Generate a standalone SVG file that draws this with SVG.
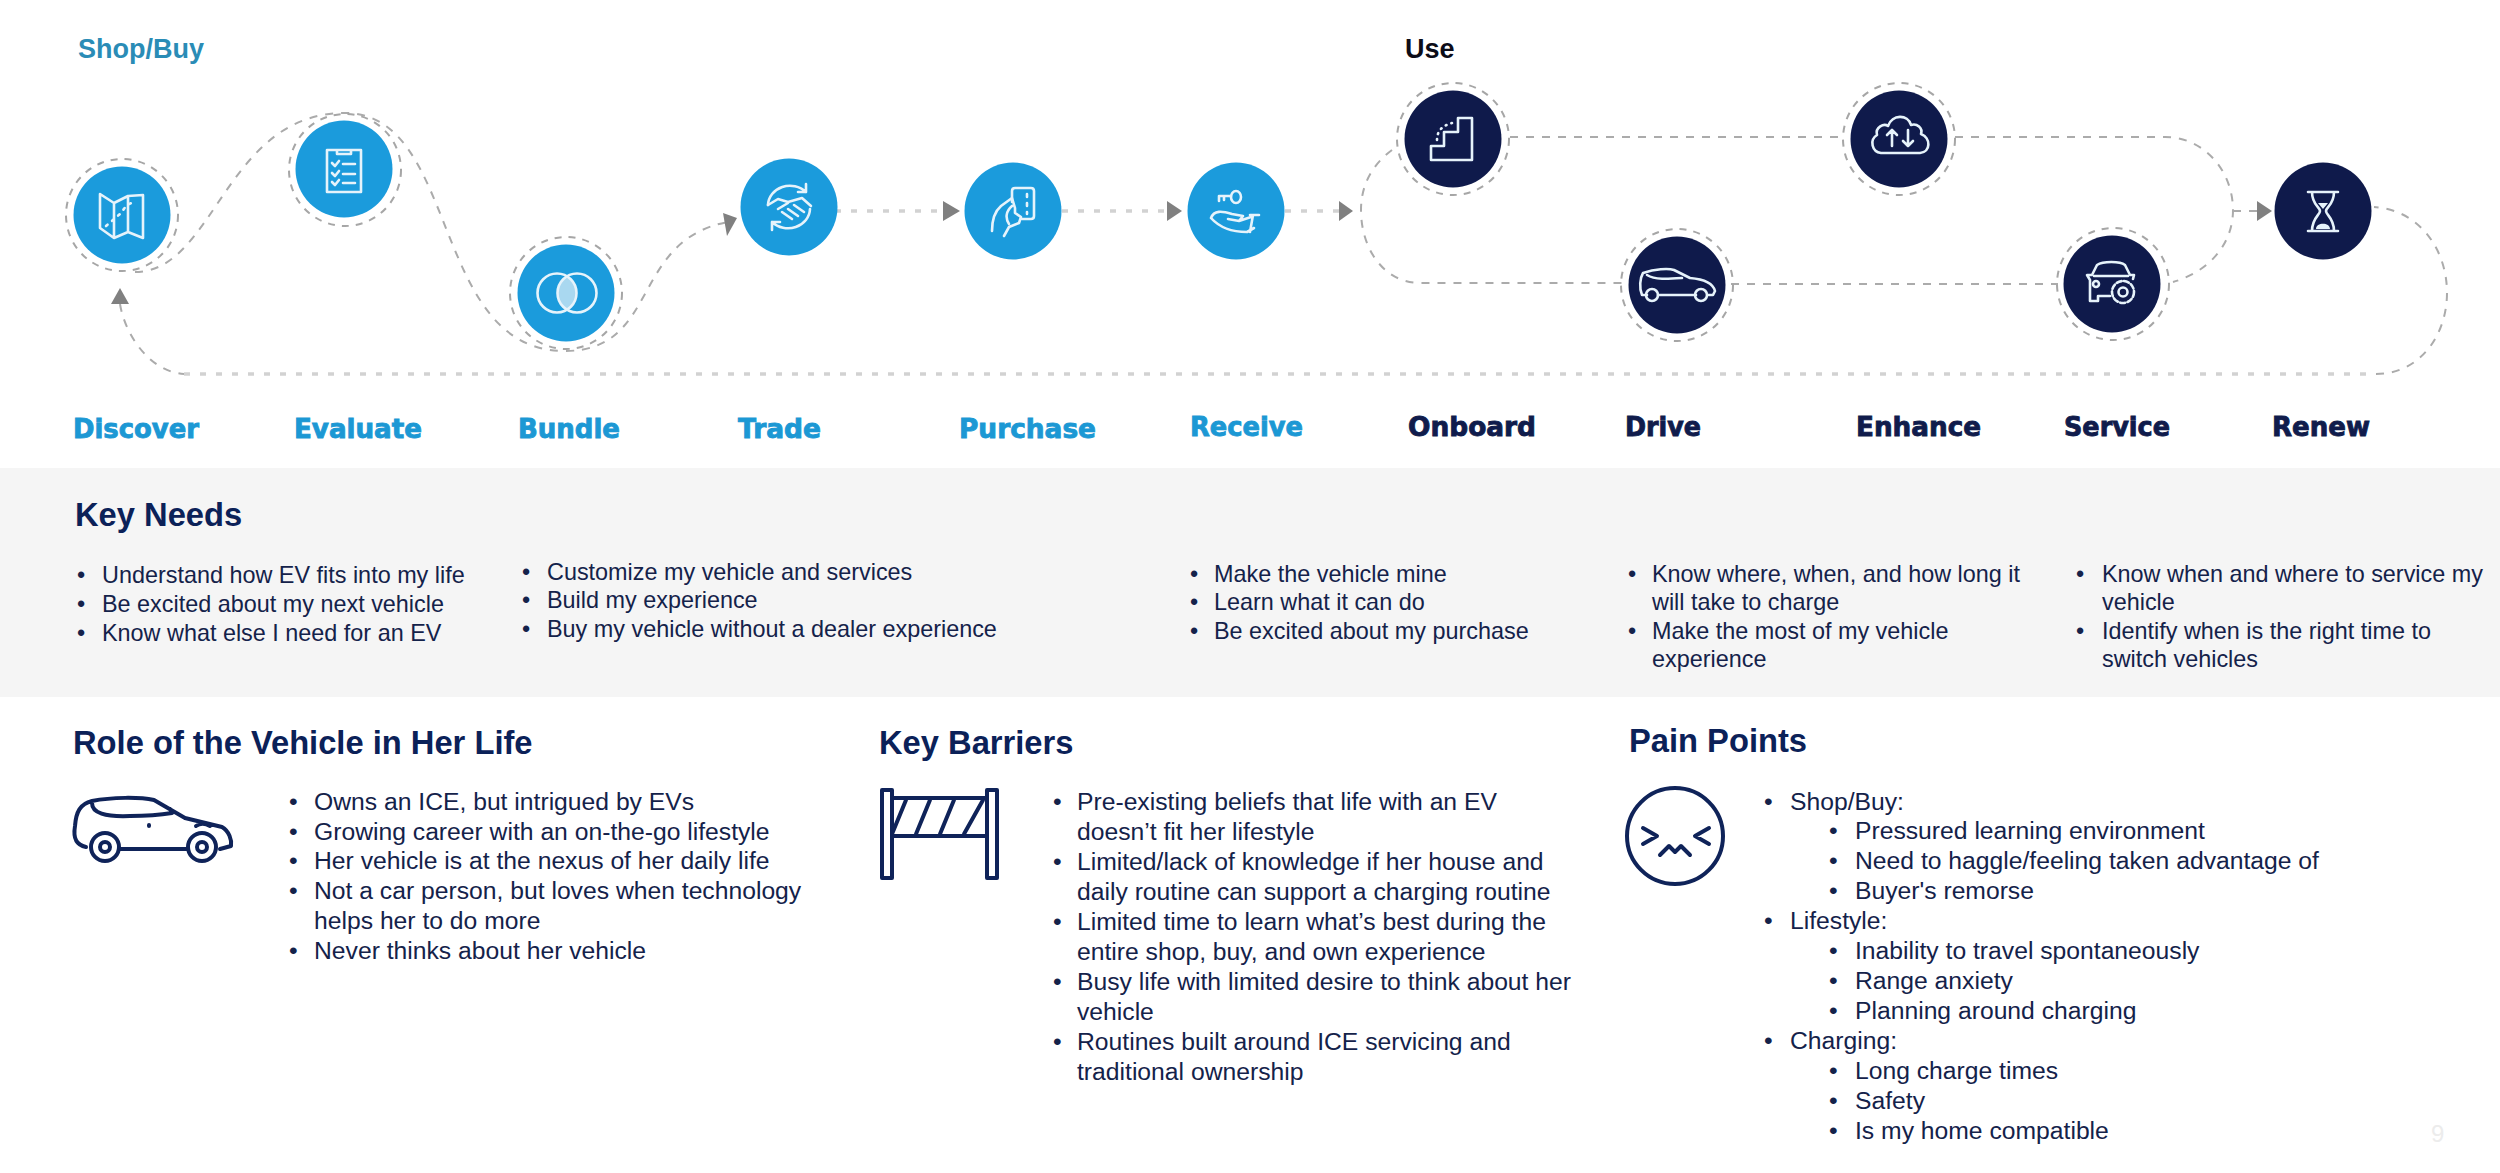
<svg xmlns="http://www.w3.org/2000/svg" width="2500" height="1173" viewBox="0 0 2500 1173">
<defs>
<style>
text{font-family:"Liberation Sans",Arial,sans-serif}
.b{font-size:24.7px;fill:#14224a}
.k{font-size:23.4px;fill:#14224a}
.h{font-size:32.7px;font-weight:700;fill:#0b2158}
.p{font-size:27px;font-weight:700}
.l{font-family:"DejaVu Sans",sans-serif;font-size:27px;font-weight:700;stroke-width:.9px}
.lb{fill:#1c98d4;stroke:#1c98d4}.ln{fill:#101c4c;stroke:#101c4c}
.bc{fill:#1b9bdc}.nc{fill:#0f1a4b}
.ring{fill:none;stroke:#a6a6a6;stroke-width:2;stroke-dasharray:7 7}
.dash{fill:none;stroke:#ababab;stroke-width:2;stroke-dasharray:8 8}
.dot{fill:none;stroke:#d2d2d2;stroke-width:3.5;stroke-dasharray:6 10}
.arr{fill:#808080}
.ic{fill:none;stroke:#e6f3fb;stroke-width:2.6;stroke-linecap:round;stroke-linejoin:round}
.nv{fill:none;stroke:#0f2359;stroke-width:4;stroke-linecap:round;stroke-linejoin:round}
</style>
</defs>
<rect width="2500" height="1173" fill="#ffffff"/>
<rect y="468" width="2500" height="229" fill="#f5f5f5"/>

<g id="connectors">
<path class="dash" d="M135,272 C215,272 225,113 345,113 C460,113 430,351 565,351 C660,351 630,240 728,222"/>
<path class="dash" d="M120,304 C125,335 150,372 184,374"/>
<path class="dot" d="M184,374 H2376"/>
<path class="dash" d="M2376,374 C2420,374 2447,335 2447,293 C2447,250 2420,210 2374,207"/>
<path class="dot" d="M835,211 H943 M1062,211 H1167 M1285,211 H1339"/>
<path class="dash" d="M1392,150 C1372,165 1361,185 1361,210 C1361,250 1385,283 1420,283 H1622"/>
<path class="dash" d="M1510,137 H1843 M1955,137 H2165 C2205,137 2233,172 2233,210 C2233,245 2208,272 2173,282"/>
<path class="dash" d="M1731,284 H2058"/>
<path class="dash" d="M2233,211 H2257"/>
<polygon class="arr" points="120,288 111,304 129,304"/>
<polygon class="arr" points="737,218 723,213 727,236"/>
<polygon class="arr" points="960,211 943,201 943,221"/>
<polygon class="arr" points="1182,211 1167,201 1167,221"/>
<polygon class="arr" points="1353,211 1339,201 1339,221"/>
<polygon class="arr" points="2272,211 2257,201 2257,221"/>
</g>

<text class="p" x="78" y="58" fill="#2a8cb6">Shop/Buy</text>
<text class="p" x="1405" y="58" fill="#0c0c18">Use</text>

<g id="discover">
<circle class="ring" cx="122" cy="215" r="56"/><circle class="bc" cx="122" cy="215" r="48.5"/>
<path class="ic" d="M100,194 L114,203 L128,196 L143,195 V238 L128,232 L114,238 L100,228 Z M114,203 V238 M128,196 V232"/>
<path class="ic" stroke-dasharray="2 6" d="M106,226 L120,214 L127,205 L136,201"/>
<text class="l lb" x="73" y="438" textLength="126" lengthAdjust="spacingAndGlyphs">Discover</text>
</g>
<g id="evaluate">
<circle class="ring" cx="345" cy="170" r="56"/><circle class="bc" cx="344" cy="169" r="48.5"/>
<path class="ic" d="M327,150 H361 V192 H327 Z M337,150 V154 H351 V150"/>
<path class="ic" d="M332,163 L335,166 L339,161 M332,173 L335,176 L339,171 M332,182 L335,185 L339,180 M343,164 H355 M343,174 H355 M343,183 H355"/>
<text class="l lb" x="294" y="438" textLength="128" lengthAdjust="spacingAndGlyphs">Evaluate</text>
</g>
<g id="bundle">
<circle class="ring" cx="566" cy="293" r="56"/><circle class="bc" cx="566" cy="293" r="48.5"/>
<path d="M567,276 C579,286 579,300 567,310 C555,300 555,286 567,276 Z" fill="#a9d8f0"/>
<circle class="ic" cx="557" cy="293" r="19.5"/><circle class="ic" cx="577" cy="293" r="19.5"/>
<text class="l lb" x="518" y="438" textLength="102" lengthAdjust="spacingAndGlyphs">Bundle</text>
</g>
<g id="trade">
<circle class="bc" cx="789" cy="207" r="48.5"/>
<path class="ic" d="M768,205 A22,20 0 0 1 806,192 M810,209 A22,20 0 0 1 772,222 M806,184 V192 H798 M772,230 V222 H780"/>
<path class="ic" d="M768,205 L778,199 L788,202 L802,198 L811,206 M778,209 L788,203 M782,212 L792,219 M788,209 L798,216 M794,205 L804,212"/>
<text class="l lb" x="738" y="438" textLength="83" lengthAdjust="spacingAndGlyphs">Trade</text>
</g>
<g id="purchase">
<circle class="bc" cx="1013" cy="211" r="48.5"/>
<path class="ic" d="M1012,202 V191 Q1012,188 1015,188 H1031 Q1034,188 1034,191 V216 Q1034,219 1031,219 H1022"/>
<path class="ic" stroke-width="4" stroke-dasharray="3 6" d="M1027,194 V214"/>
<path class="ic" d="M992,231 C992,220 994,212 1001,206 L1012,198 L1015,208 V213 L1021,217 L1019,223 L1009,227 L1004,236 M1012,206 C1006,211 1005,218 1009,224"/>
<text class="l lb" x="959" y="438" textLength="137" lengthAdjust="spacingAndGlyphs">Purchase</text>
</g>
<g id="receive">
<circle class="bc" cx="1236" cy="211" r="48.5"/>
<ellipse class="ic" cx="1236" cy="197" rx="5" ry="6"/>
<path class="ic" d="M1231,196 H1219 V201 M1224,196 V200"/>
<path class="ic" d="M1211,218 C1214,210 1222,211 1232,214 L1243,216 L1239,221 L1228,219 M1239,221 L1251,217 M1211,218 C1220,228 1232,232 1247,232 L1254,228 M1250,215 H1259 M1253,215 L1250,232"/>
<text class="l lb" x="1190" y="436" textLength="113" lengthAdjust="spacingAndGlyphs">Receive</text>
</g>
<g id="onboard">
<circle class="ring" cx="1453" cy="139" r="56"/><circle class="nc" cx="1453" cy="139" r="48.5"/>
<path class="ic" d="M1431,160 V146 H1444 V132 H1458 V118 H1472 V160 Z"/>
<path class="ic" stroke-dasharray="1 5" d="M1437,140 C1437,132 1441,126 1452,123"/>
<text class="l ln" x="1408" y="436" textLength="128" lengthAdjust="spacingAndGlyphs">Onboard</text>
</g>
<g id="drive">
<circle class="ring" cx="1677" cy="285" r="56"/><circle class="nc" cx="1677" cy="285" r="48.5"/>
<path class="ic" d="M1647,295 H1642 C1639,288 1640,278 1643,273 C1655,269 1668,268 1674,270 L1690,278 C1702,279 1713,283 1715,291 L1713,295 H1708 M1658,295 H1696"/>
<path class="ic" d="M1647,275 C1655,280 1668,279 1682,278"/>
<circle class="ic" cx="1652" cy="295" r="6"/><circle class="ic" cx="1701" cy="295" r="6"/>
<text class="l ln" x="1625" y="436" textLength="76" lengthAdjust="spacingAndGlyphs">Drive</text>
</g>
<g id="enhance">
<circle class="ring" cx="1899" cy="139" r="56"/><circle class="nc" cx="1899" cy="139" r="48.5"/>
<path class="ic" d="M1881,153 C1872,152 1869,140 1877,135 C1875,127 1884,123 1888,126 C1892,114 1908,114 1911,125 C1917,123 1923,128 1921,134 C1931,138 1931,152 1920,153 Z"/>
<path class="ic" d="M1892,146 V130 M1887,135 L1892,130 L1897,135 M1908,130 V146 M1903,141 L1908,146 L1913,141"/>
<text class="l ln" x="1856" y="436" textLength="125" lengthAdjust="spacingAndGlyphs">Enhance</text>
</g>
<g id="service">
<circle class="ring" cx="2113" cy="284" r="56"/><circle class="nc" cx="2112" cy="284" r="48.5"/>
<path class="ic" d="M2110,296 H2098 V301 H2090 V280 L2087,275 H2092 L2097,265 C2103,261 2120,261 2125,265 L2130,275 H2134 L2133,279"/>
<path class="ic" d="M2094,276 H2128"/>
<circle class="ic" cx="2096" cy="284" r="3"/>
<circle class="ic" cx="2123" cy="292" r="11" stroke-dasharray="5 2.5" stroke-width="4"/><circle class="ic" cx="2123" cy="292" r="4.5"/>
<text class="l ln" x="2064" y="436" textLength="106" lengthAdjust="spacingAndGlyphs">Service</text>
</g>
<g id="renew">
<circle class="nc" cx="2323" cy="211" r="48.5"/>
<path class="ic" d="M2308,192 H2338 M2308,231 H2338 M2312,192 C2312,205 2320,207 2320,211 C2320,215 2312,218 2312,231 M2334,192 C2334,205 2326,207 2326,211 C2326,215 2334,218 2334,231"/>
<path d="M2318,203 H2328 L2323,209 Z M2316,229 C2316,222 2330,222 2330,229 Z" fill="#e6f3fb"/>
<text class="l ln" x="2272" y="436" textLength="98" lengthAdjust="spacingAndGlyphs">Renew</text>
</g>

<g id="key-needs">
<text class="h" x="75" y="526">Key Needs</text>
<text class="k" x="77" y="583">•</text><text class="k" x="102" y="583">Understand how EV fits into my life</text>
<text class="k" x="77" y="612">•</text><text class="k" x="102" y="612">Be excited about my next vehicle</text>
<text class="k" x="77" y="641">•</text><text class="k" x="102" y="641">Know what else I need for an EV</text>
<text class="k" x="522" y="580">•</text><text class="k" x="547" y="580">Customize my vehicle and services</text>
<text class="k" x="522" y="608">•</text><text class="k" x="547" y="608">Build my experience</text>
<text class="k" x="522" y="637">•</text><text class="k" x="547" y="637">Buy my vehicle without a dealer experience</text>
<text class="k" x="1190" y="582">•</text><text class="k" x="1214" y="582">Make the vehicle mine</text>
<text class="k" x="1190" y="610">•</text><text class="k" x="1214" y="610">Learn what it can do</text>
<text class="k" x="1190" y="639">•</text><text class="k" x="1214" y="639">Be excited about my purchase</text>
<text class="k" x="1628" y="582">•</text><text class="k" x="1652" y="582">Know where, when, and how long it</text>
<text class="k" x="1652" y="610">will take to charge</text>
<text class="k" x="1628" y="639">•</text><text class="k" x="1652" y="639">Make the most of my vehicle</text>
<text class="k" x="1652" y="667">experience</text>
<text class="k" x="2076" y="582">•</text><text class="k" x="2102" y="582">Know when and where to service my</text>
<text class="k" x="2102" y="610">vehicle</text>
<text class="k" x="2076" y="639">•</text><text class="k" x="2102" y="639">Identify when is the right time to</text>
<text class="k" x="2102" y="667">switch vehicles</text>
</g>

<g id="role">
<text class="h" x="73" y="754">Role of the Vehicle in Her Life</text>
<path class="nv" d="M86,847 C76,845 73,838 75,826 C76,812 80,804 92,801 C112,797 140,797 154,800 L185,818 L222,827 C229,831 232,840 231,846 L220,849 M120,849 H187 M92,803 C92,813 105,817 130,816 C146,816 160,815 172,813 M172,813 L170,809 M149,825 L149,826 M196,826 C200,823 205,823 210,826"/>
<circle class="nv" cx="105" cy="847" r="14"/><circle class="nv" cx="105" cy="847" r="5"/>
<circle class="nv" cx="202" cy="847" r="14"/><circle class="nv" cx="202" cy="847" r="5"/>
<text class="b" x="289" y="810">•</text><text class="b" x="314" y="810">Owns an ICE, but intrigued by EVs</text>
<text class="b" x="289" y="840">•</text><text class="b" x="314" y="840">Growing career with an on-the-go lifestyle</text>
<text class="b" x="289" y="869">•</text><text class="b" x="314" y="869">Her vehicle is at the nexus of her daily life</text>
<text class="b" x="289" y="899">•</text><text class="b" x="314" y="899">Not a car person, but loves when technology</text>
<text class="b" x="314" y="929">helps her to do more</text>
<text class="b" x="289" y="959">•</text><text class="b" x="314" y="959">Never thinks about her vehicle</text>
</g>

<g id="barriers">
<text class="h" x="879" y="754">Key Barriers</text>
<path class="nv" stroke-linecap="butt" d="M882,790 H892 V878 H882 Z M987,790 H997 V878 H987 Z M892,798 H987 M892,836 H987 M906,800 L892,834 M930,800 L916,834 M954,800 L940,834 M983,800 L964,834"/>
<text class="b" x="1053" y="810">•</text><text class="b" x="1077" y="810">Pre-existing beliefs that life with an EV</text>
<text class="b" x="1077" y="840">doesn’t fit her lifestyle</text>
<text class="b" x="1053" y="870">•</text><text class="b" x="1077" y="870">Limited/lack of knowledge if her house and</text>
<text class="b" x="1077" y="900">daily routine can support a charging routine</text>
<text class="b" x="1053" y="930">•</text><text class="b" x="1077" y="930">Limited time to learn what’s best during the</text>
<text class="b" x="1077" y="960">entire shop, buy, and own experience</text>
<text class="b" x="1053" y="990">•</text><text class="b" x="1077" y="990">Busy life with limited desire to think about her</text>
<text class="b" x="1077" y="1020">vehicle</text>
<text class="b" x="1053" y="1050">•</text><text class="b" x="1077" y="1050">Routines built around ICE servicing and</text>
<text class="b" x="1077" y="1080">traditional ownership</text>
</g>

<g id="pain-points">
<text class="h" x="1629" y="752">Pain Points</text>
<circle class="nv" cx="1675" cy="836" r="48"/>
<path class="nv" d="M1643,828 L1657,836 L1643,844 M1709,828 L1695,836 L1709,844 M1660,855 L1669,846 L1675,852 L1681,846 L1690,855"/>
<text class="b" x="1764" y="810">•</text><text class="b" x="1790" y="810">Shop/Buy:</text>
<text class="b" x="1829" y="839">•</text><text class="b" x="1855" y="839">Pressured learning environment</text>
<text class="b" x="1829" y="869">•</text><text class="b" x="1855" y="869">Need to haggle/feeling taken advantage of</text>
<text class="b" x="1829" y="899">•</text><text class="b" x="1855" y="899">Buyer's remorse</text>
<text class="b" x="1764" y="929">•</text><text class="b" x="1790" y="929">Lifestyle:</text>
<text class="b" x="1829" y="959">•</text><text class="b" x="1855" y="959">Inability to travel spontaneously</text>
<text class="b" x="1829" y="989">•</text><text class="b" x="1855" y="989">Range anxiety</text>
<text class="b" x="1829" y="1019">•</text><text class="b" x="1855" y="1019">Planning around charging</text>
<text class="b" x="1764" y="1049">•</text><text class="b" x="1790" y="1049">Charging:</text>
<text class="b" x="1829" y="1079">•</text><text class="b" x="1855" y="1079">Long charge times</text>
<text class="b" x="1829" y="1109">•</text><text class="b" x="1855" y="1109">Safety</text>
<text class="b" x="1829" y="1139">•</text><text class="b" x="1855" y="1139">Is my home compatible</text>
</g>
<text x="2431" y="1142" font-size="24" fill="#ececec">9</text>
</svg>
